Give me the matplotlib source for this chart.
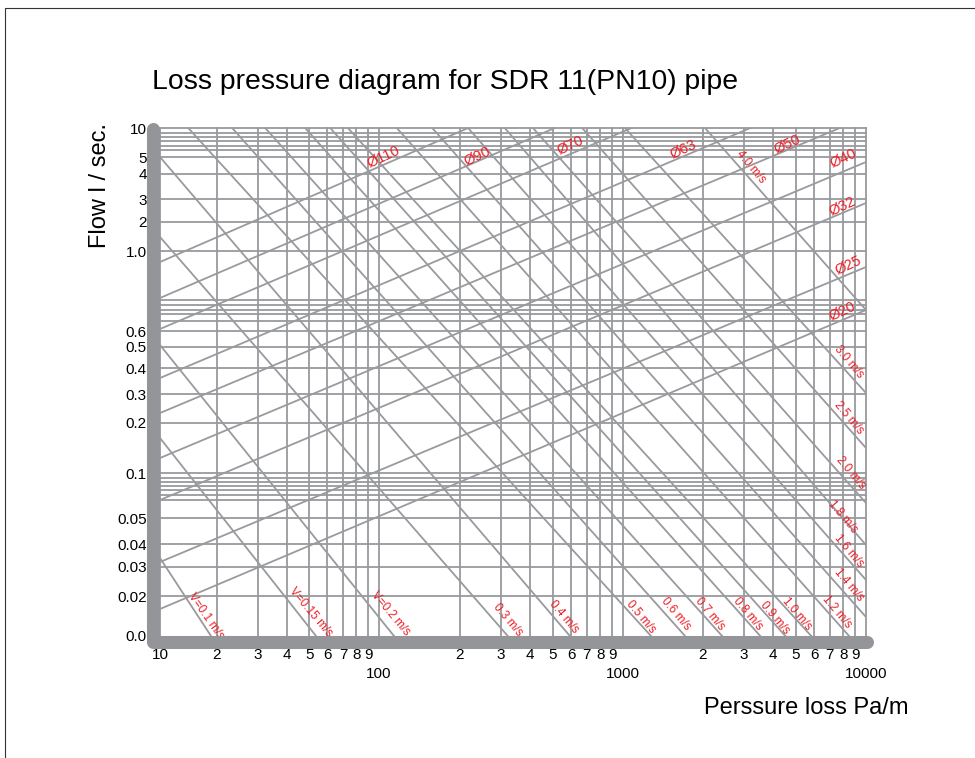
import numpy as np
import matplotlib.pyplot as plt
from matplotlib.lines import Line2D

plt.rcParams['font.family'] = ['Liberation Sans', 'DejaVu Sans']

# rows of the hand drawn flow scale (height above the bottom axis)
flow_labels = ['10', '5', '4', '3', '2', '1.0', '0.6', '0.5', '0.4', '0.3',
               '0.2', '0.1', '0.05', '0.04', '0.03', '0.02', '0.0']
flow_rows = [508, 479, 462.5, 437, 414.5, 385, 305, 289.5, 268, 242,
             213.5, 163, 118, 92, 69.5, 40, 0]
extra_rows = [503.5, 499, 495, 490.5, 486.5, 336, 331, 326.5, 322, 315,
              158, 154, 150, 146, 141, 136]

# pressure loss axis (Pa/m)
loss_minor = [10, 20, 30, 40, 50, 60, 70, 80, 90,
              200, 300, 400, 500, 600, 700, 800, 900,
              2000, 3000, 4000, 5000, 6000, 7000, 8000, 9000]
loss_minor_lbl = ['10'] + [str(d) for d in range(2, 10)] * 3
loss_major = [100, 1000, 10000]

# pipe lines: height at 10 Pa/m and at 10000 Pa/m
diam_names = ['Ø110', 'Ø90', 'Ø70', 'Ø63', 'Ø50', 'Ø40', 'Ø32', 'Ø25', 'Ø20']
diam_left = [374, 338, 307, 258, 223, 178, 136, 74, 27]
diam_right = [681, 642, 608, 557, 519, 474, 433, 369, 326]

# velocity lines: height at 10 Pa/m and at 10000 Pa/m
vel_names = ['V=0.1 m/s', 'V=0.15 m/s', 'V=0.2 m/s', '0.3 m/s', '0.4 m/s',
             '0.5 m/s', '0.6 m/s', '0.7 m/s', '0.8 m/s', '0.9 m/s', '1.0 m/s',
             '1.2 m/s', '1.4 m/s', '1.6 m/s', '1.8 m/s', '2.0 m/s', '2.5 m/s',
             '3.0 m/s', '4.0 m/s']
vel_left = [78, 198, 291, 399, 479, 539, 589, 625, 670, 698, 714,
            774, 815, 858, 906, 928, 984, 1019, 1124]
vel_right = [-1002, -698, -587, -411, -346, -236, -203, -160, -118, -90, -60,
             -19, 19, 56, 91, 133, 188, 243, 326]

# label places (axes fraction)
diam_lbl_pos = [(0.316, 0.943), (0.449, 0.943), (0.581, 0.965), (0.741, 0.957),
                (0.888, 0.968), (0.968, 0.940), (0.966, 0.845), (0.975, 0.730),
                (0.966, 0.638)]
vel_lbl_pos = [(0.065, 0.039), (0.214, 0.047), (0.327, 0.045), (0.492, 0.032),
               (0.572, 0.037), (0.681, 0.037), (0.730, 0.043), (0.779, 0.043),
               (0.833, 0.043), (0.871, 0.035), (0.902, 0.043), (0.959, 0.047),
               (0.975, 0.100), (0.975, 0.167), (0.967, 0.234), (0.979, 0.321),
               (0.976, 0.429), (0.976, 0.539), (0.837, 0.923)]

grid_c = '#999a9d'
bar_c = '#939598'
red = '#ee1c24'

# the decades of the printed diagram are not drawn with equal widths
knot_log = np.log10([1, 10, 20, 100, 200, 1000, 2000, 10000, 100000])
knot_len = [-219, 0, 56.7, 219, 300, 463, 543, 706, 950]


def fwd(v):
    return np.interp(np.log10(np.maximum(v, 1e-9)), knot_log, knot_len)


def inv(p):
    return 10 ** np.interp(p, knot_len, knot_log)


fig = plt.figure(figsize=(9.75, 7.58), dpi=100)
ax = fig.add_axes([0.1641, 0.16095, 0.7241, 0.67018])
ax.set_xscale('function', functions=(fwd, inv))
ax.set_xlim(10, 10000)
ax.set_ylim(0, 508)

for v in loss_minor + loss_major:
    ax.axvline(v, color=grid_c, lw=1.3, clip_on=False, zorder=1)
for h in flow_rows[:-1] + extra_rows:
    ax.axhline(h, color=grid_c, lw=1.3, clip_on=False, zorder=1)

for l, r in zip(diam_left, diam_right):
    ax.plot([10, 10000], [l, r], color=grid_c, lw=1.3, zorder=2)
for l, r in zip(vel_left, vel_right):
    ax.plot([10, 10000], [l, r], color=grid_c, lw=1.3, zorder=2)

for name, (fx, fy) in zip(diam_names, diam_lbl_pos):
    ax.text(fx, fy, name, transform=ax.transAxes, color=red, fontsize=10.5,
            rotation=25, rotation_mode='anchor', ha='center', va='center', zorder=4)
for name, (fx, fy) in zip(vel_names, vel_lbl_pos):
    rot = -55 if name.startswith('V=0.1 ') else -50
    ax.text(fx, fy, name, transform=ax.transAxes, color=red, fontsize=8.5,
            rotation=rot, rotation_mode='anchor', ha='center', va='center', zorder=4)

# thick L shaped axis
ax.plot([-0.0099, -0.0099, 1.001], [0.998, -0.0118, -0.0118], transform=ax.transAxes,
        color=bar_c, lw=9.4, solid_capstyle='round', solid_joinstyle='round',
        clip_on=False, zorder=5)

for s in ax.spines.values():
    s.set_visible(False)

ax.set_yticks(flow_rows, flow_labels)
ax.tick_params(axis='y', length=0, pad=9.5, labelsize=11)
ax.set_xticks(loss_major, ['100', '1000', '10000'])
ax.set_xticks(loss_minor, loss_minor_lbl, minor=True)
ax.tick_params(axis='x', which='minor', length=0, pad=9, labelsize=11)
ax.tick_params(axis='x', which='major', length=0, pad=22, labelsize=11)

fig.text(0.1559, 0.8918, 'Loss pressure diagram for SDR 11(PN10) pipe',
         fontsize=20.4, ha='left', va='center')
fig.text(0.1026, 0.7559, 'Flow l / sec.', rotation=90, fontsize=17,
         ha='center', va='center')
fig.text(0.9313, 0.0660, 'Perssure loss Pa/m', fontsize=17, ha='right', va='center')

# page frame (top and left edges)
fig.add_artist(Line2D([0.0051, 0.0051, 1.0], [0.0, 0.9894, 0.9894],
                      transform=fig.transFigure, color='#333333', lw=0.8))

fig.savefig('out.png', dpi=100)
